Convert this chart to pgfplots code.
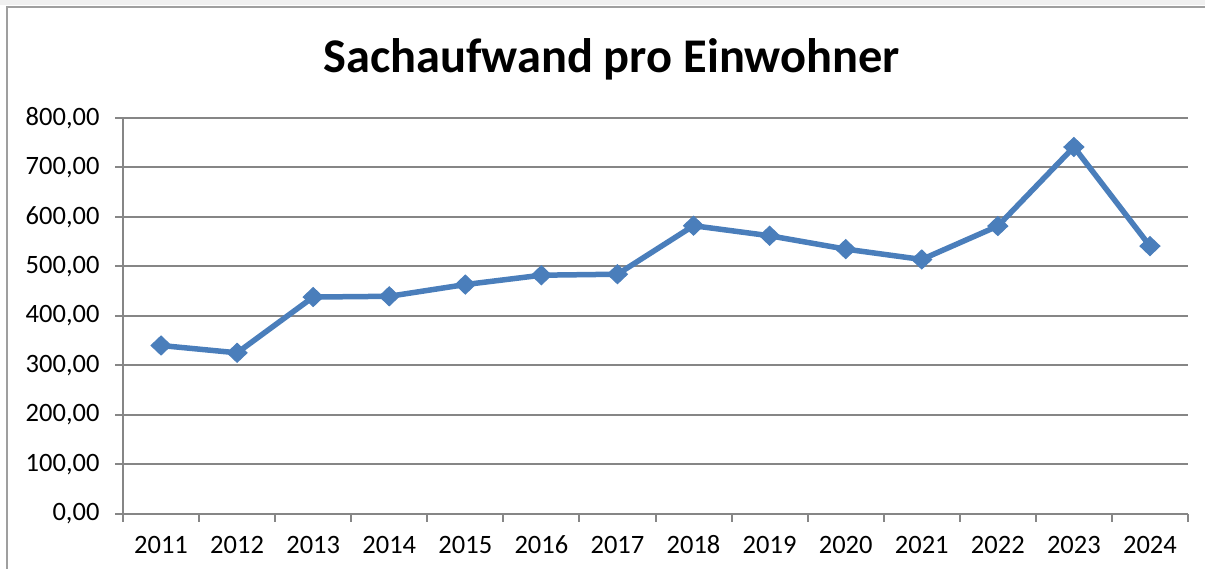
\documentclass[border=0pt]{standalone}
\usepackage{fontspec}
\setmainfont{Carlito}
\usepackage{pgfplots}
\pgfplotsset{compat=1.18}
\definecolor{linecol}{HTML}{4A7EBB}
\definecolor{gridcol}{HTML}{868686}
\begin{document}
\begin{tikzpicture}[x=1pt,y=1pt]
\path[use as bounding box] (0,0) rectangle (1205,569);
\fill[gray!12] (0,564) rectangle (1205,569);
\draw[gray!75, line width=1.5pt] (7,0) -- (7,562) -- (1205,562);
\node[anchor=base, inner sep=0pt, font=\fontsize{48.4}{58}\selectfont\bfseries] at (611.5,496) {Sachaufwand pro Einwohner};
\begin{axis}[
  at={(123pt,55pt)}, anchor=south west,
  scale only axis, width=1065pt, height=396pt,
  xmin=0.5, xmax=14.5, ymin=0, ymax=800,
  axis x line*=bottom, axis y line*=left,
  axis line style={gridcol, line width=2pt, -},
  ytick={0,100,...,800},
  ymajorgrids, grid style={gridcol, line width=2pt},
  xtick={1,...,14},
  xticklabels={2011,2012,2013,2014,2015,2016,2017,2018,2019,2020,2021,2022,2023,2024},
  major x tick style={draw=none},
  minor xtick={0.5,1.5,...,14.5},
  tick align=outside,
  major tick length=8pt, minor tick length=8pt,
  tick style={gridcol, line width=2pt},
  tick label style={font=\fontsize{26.5}{31}\selectfont},
  yticklabel style={xshift=-12pt},
  xticklabel style={text height=16pt, text depth=0pt, yshift=-12pt},
  scaled y ticks=false,
  /pgf/number format/fixed,
  /pgf/number format/fixed zerofill,
  /pgf/number format/precision=2,
  /pgf/number format/use comma,
  /pgf/number format/1000 sep={},
  /pgf/number format/assume math mode=true,
  clip=false,
]
\addplot[color=linecol, line width=5.5pt, mark=diamond*, mark size=9.5pt,
  mark options={solid, line width=1pt, fill=linecol, draw=linecol, xscale=1.4}]
  coordinates {
  (1,340.4) (2,325.6) (3,438.3) (4,439.8) (5,463.5) (6,482.4) (7,484.4)
  (8,582.4) (9,562.1) (10,535.1) (11,514.2) (12,581.7) (13,741.4) (14,541.2)
  };
\end{axis}
\end{tikzpicture}
\end{document}
